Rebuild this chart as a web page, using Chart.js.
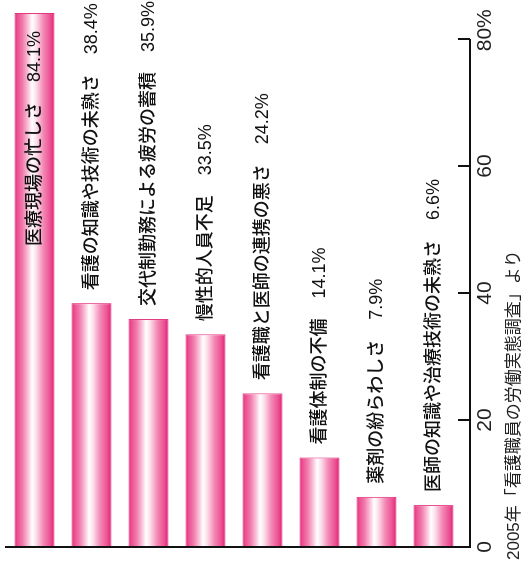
<!DOCTYPE html>
<html><head><meta charset="utf-8">
<script src="https://cdn.jsdelivr.net/npm/chart.js@4/dist/chart.umd.min.js"></script>
<style>
html,body{margin:0;padding:0;background:#fff;}
#wrap{position:relative;width:524px;height:563px;overflow:hidden;background:#fff;}
#rot{position:absolute;left:0;top:0;width:563px;height:524px;transform-origin:0 0;transform:translate(0,563px) rotate(-90deg);}
</style></head><body>
<div id="wrap"><div id="rot"><canvas id="c" width="563" height="524"></canvas></div></div>
<script>
const categories = ['医療現場の忙しさ','看護の知識や技術の未熟さ','交代制勤務による疲労の蓄積','慢性的人員不足','看護職と医師の連携の悪さ','看護体制の不備','薬剤の紛らわしさ','医師の知識や治療技術の未熟さ'];
const values = [84.1, 38.4, 35.9, 33.5, 24.2, 14.1, 7.9, 6.6];
const tickValues = [0, 20, 40, 60, 80];
const tickLabels = ['0', '20', '40', '60', '   80%'];
const sourceNote = '2005年「看護職員の労働実態調査」より';

const LABEL_FONT = '500 18px "Liberation Sans", "Noto Sans CJK JP", sans-serif';
const BAR_FRACTION = 0.7;

function barGradient(ctx) {
  const chart = ctx.chart;
  if (!chart.chartArea || ctx.dataIndex === undefined) return '#ec4b8f';
  const ys = chart.scales.y;
  const c = ys.getPixelForValue(ctx.dataIndex);
  const w = (ys.bottom - ys.top) / categories.length * BAR_FRACTION;
  const g = chart.ctx.createLinearGradient(0, c - w / 2, 0, c + w / 2);
  g.addColorStop(0, '#de1f72');
  g.addColorStop(0.06, '#eb4a8e');
  g.addColorStop(0.2, '#f17aab');
  g.addColorStop(0.34, '#f9c3da');
  g.addColorStop(0.44, '#ffffff');
  g.addColorStop(0.54, '#fce0ec');
  g.addColorStop(0.72, '#f389b5');
  g.addColorStop(0.9, '#ec4f91');
  g.addColorStop(1, '#de1f72');
  return g;
}

const decor = {
  id: 'decor',
  afterDatasetsDraw(chart) {
    const { ctx, chartArea: a, scales: { x } } = chart;
    const x0 = x.getPixelForValue(0);
    const axisV = a.bottom + 8;
    ctx.save();
    ctx.strokeStyle = '#111';
    ctx.lineWidth = 2;
    ctx.beginPath();
    ctx.moveTo(x0, a.top - 1); ctx.lineTo(x0, axisV + 1);
    ctx.moveTo(x0, axisV); ctx.lineTo(x.getPixelForValue(tickValues[tickValues.length - 1]), axisV);
    tickValues.forEach(t => {
      const px = x.getPixelForValue(t);
      ctx.moveTo(px, axisV - 12); ctx.lineTo(px, axisV);
    });
    ctx.stroke();

    const meta = chart.getDatasetMeta(0);
    ctx.font = LABEL_FONT;
    ctx.fillStyle = '#111';
    ctx.textBaseline = 'middle';
    ctx.textAlign = 'left';
    const gap = 20;
    meta.data.forEach((el, i) => {
      const name = categories[i];
      const val = values[i].toFixed(1) + '%';
      const wn = ctx.measureText(name).width;
      const wv = ctx.measureText(val).width;
      const total = wn + gap + wv;
      const start = values[i] > 60 ? el.x - 18 - total : el.x + 13;
      ctx.fillText(name, start, el.y + 1);
      ctx.fillText(val, start + wn + gap, el.y + 1);
    });

    ctx.font = '17px "Liberation Sans", "Noto Sans CJK JP", sans-serif';
    ctx.fillStyle = '#222';
    ctx.fillText(sourceNote, 3, a.bottom + 52);
    ctx.restore();
  }
};

new Chart(document.getElementById('c'), {
  type: 'bar',
  data: {
    labels: categories,
    datasets: [{
      data: values,
      backgroundColor: barGradient,
      borderColor: '#e0307c',
      borderWidth: 1,
      categoryPercentage: 1,
      barPercentage: BAR_FRACTION,
      clip: false
    }]
  },
  options: {
    indexAxis: 'y',
    responsive: false,
    devicePixelRatio: 1,
    animation: false,
    layout: { padding: { left: 16, right: 39, top: 6, bottom: 15 } },
    plugins: { legend: { display: false }, tooltip: { enabled: false } },
    scales: {
      x: {
        min: 0, max: 80,
        grid: { display: false, drawTicks: false },
        border: { display: false },
        ticks: {
          stepSize: 20,
          padding: 0,
          color: '#222',
          font: { family: '"Liberation Sans", sans-serif', size: 21, lineHeight: '47px' },
          callback: (v) => { const k = tickValues.indexOf(v); return k >= 0 ? tickLabels[k] : ''; }
        }
      },
      y: { display: false }
    }
  },
  plugins: [decor]
});
</script>
</body></html>
